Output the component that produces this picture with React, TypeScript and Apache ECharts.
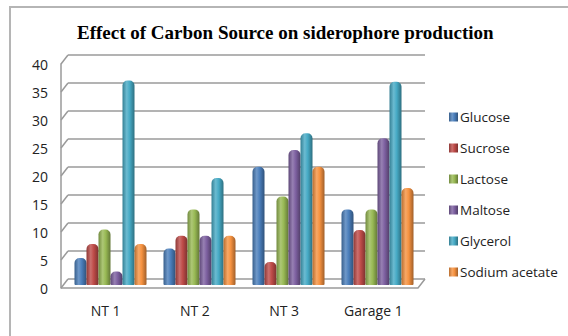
import React, { useEffect, useRef } from "react";
import * as echarts from "echarts";

const categories = ["NT 1", "NT 2", "NT 3", "Garage 1"];
const seriesNames = ["Glucose", "Sucrose", "Lactose", "Maltose", "Glycerol", "Sodium acetate"];
const glucose = [4.8, 6.5, 21.1, 13.5];
const sucrose = [7.3, 8.8, 4.1, 9.8];
const lactose = [9.9, 13.5, 15.8, 13.5];
const maltose = [2.4, 8.8, 24.1, 26.2];
const glycerol = [36.5, 19.1, 27.1, 36.3];
const sodiumAcetate = [7.3, 8.8, 21.1, 17.3];
const yTicks = [0, 5, 10, 15, 20, 25, 30, 35, 40];

const seriesData = [glucose, sucrose, lactose, maltose, glycerol, sodiumAcetate];
const baseColors = ["#4A7EBB", "#BE4B48", "#98B954", "#7D60A0", "#46AAC5", "#F69240"];

function shade(hex: string, f: number): string {
  const n = parseInt(hex.slice(1), 16);
  let r = (n >> 16) & 255, g = (n >> 8) & 255, b = n & 255;
  if (f < 0) {
    r = Math.round(r * (1 + f)); g = Math.round(g * (1 + f)); b = Math.round(b * (1 + f));
  } else {
    r = Math.round(r + (255 - r) * f); g = Math.round(g + (255 - g) * f); b = Math.round(b + (255 - b) * f);
  }
  return "rgb(" + r + "," + g + "," + b + ")";
}

function cyl(hex: string) {
  return new echarts.graphic.LinearGradient(0, 0, 1, 0, [
    { offset: 0, color: shade(hex, -0.25) },
    { offset: 0.35, color: shade(hex, 0.2) },
    { offset: 0.6, color: hex },
    { offset: 1, color: shade(hex, -0.35) },
  ]);
}

export default function App() {
  const ref = useRef<HTMLDivElement>(null);
  useEffect(() => {
    if (!ref.current) return;
    const chart = echarts.init(ref.current, undefined, { renderer: "svg" });
    const font = "Open Sans";
    const option: any = {
      animation: false,
      backgroundColor: "#ffffff",
      title: {
        text: "Effect of Carbon Source on siderophore production",
        left: 72,
        top: 18,
        textStyle: { fontFamily: "Liberation Serif", fontWeight: "bold", fontSize: 19, color: "#000" },
      },
      legend: {
        orient: "vertical",
        left: 444,
        top: 105,
        itemWidth: 9,
        itemHeight: 9,
        itemGap: 17,
        icon: "rect",
        data: seriesNames,
        textStyle: { fontFamily: font, fontSize: 13.5, color: "#222", padding: [0, 0, 0, -3], lineHeight: 13 },
      },
      grid: [
        { left: 68, right: 143, top: 55, bottom: 57 },
        { left: 61, right: 150, top: 64, bottom: 48 },
        { left: 66, right: 146, top: 61, bottom: 51 },
      ],
      xAxis: [
        { type: "category", gridIndex: 0, data: categories, show: false },
        {
          type: "category",
          gridIndex: 1,
          data: categories,
          axisLine: { show: false },
          axisTick: { show: false },
          axisLabel: { margin: 15, fontFamily: font, fontSize: 14, color: "#222" },
        },
        { type: "category", gridIndex: 2, data: categories, show: false },
      ],
      yAxis: [
        {
          type: "value", gridIndex: 0, min: 0, max: 40, interval: 5,
          axisLabel: { show: false }, axisLine: { show: false }, axisTick: { show: false },
          splitLine: { lineStyle: { color: "#9a9a9a", width: 1.5 } },
        },
        {
          type: "value", gridIndex: 1, min: 0, max: 40, interval: 5,
          axisLabel: { margin: 13, fontFamily: font, fontSize: 14, color: "#222" },
          axisLine: { show: true, lineStyle: { color: "#9a9a9a", width: 1.5 } },
          axisTick: { show: false },
          splitLine: { show: false },
        },
        {
          type: "value", gridIndex: 2, min: 0, max: 40, interval: 5, show: false,
          splitLine: { show: false },
        },
      ],
      series: seriesNames.map((name, i) => ({
        name,
        type: "bar",
        xAxisIndex: 2,
        yAxisIndex: 2,
        data: seriesData[i],
        barWidth: 12,
        barGap: "0%",
        itemStyle: { color: cyl(baseColors[i]), borderRadius: [5, 5, 1, 1] },
      })),
    };
    chart.setOption(option);

    // decorations computed from the axes: diagonal wall stubs & floor
    const lines: any[] = [];
    const frontX = 61;
    const backX = 68;
    yTicks.forEach((v) => {
      const yf = chart.convertToPixel({ yAxisIndex: 1 } as any, v) as number;
      const yb = chart.convertToPixel({ yAxisIndex: 0 } as any, v) as number;
      lines.push({
        type: "line",
        shape: { x1: frontX, y1: yf, x2: backX, y2: yb },
        style: { stroke: "#9a9a9a", lineWidth: 1.5 },
      });
    });
    const y0f = chart.convertToPixel({ yAxisIndex: 1 } as any, 0) as number;
    const y0b = chart.convertToPixel({ yAxisIndex: 0 } as any, 0) as number;
    lines.push({
      type: "polyline",
      shape: { points: [[frontX, y0f], [418, y0f], [425, y0b]] },
      style: { stroke: "#9a9a9a", lineWidth: 1.5, fill: "none" },
    });
    lines.push({
      type: "rect",
      shape: { x: 10, y: 7, width: 600, height: 400 },
      style: { stroke: "#b5b5b5", lineWidth: 2, fill: "none" },
      z: 10,
    });
    chart.setOption({ graphic: lines });

    return () => chart.dispose();
  }, []);
  return (
    <div
      ref={ref}
      style={{ position: "fixed", left: 0, top: 0, width: 568, height: 336 }}
    />
  );
}
